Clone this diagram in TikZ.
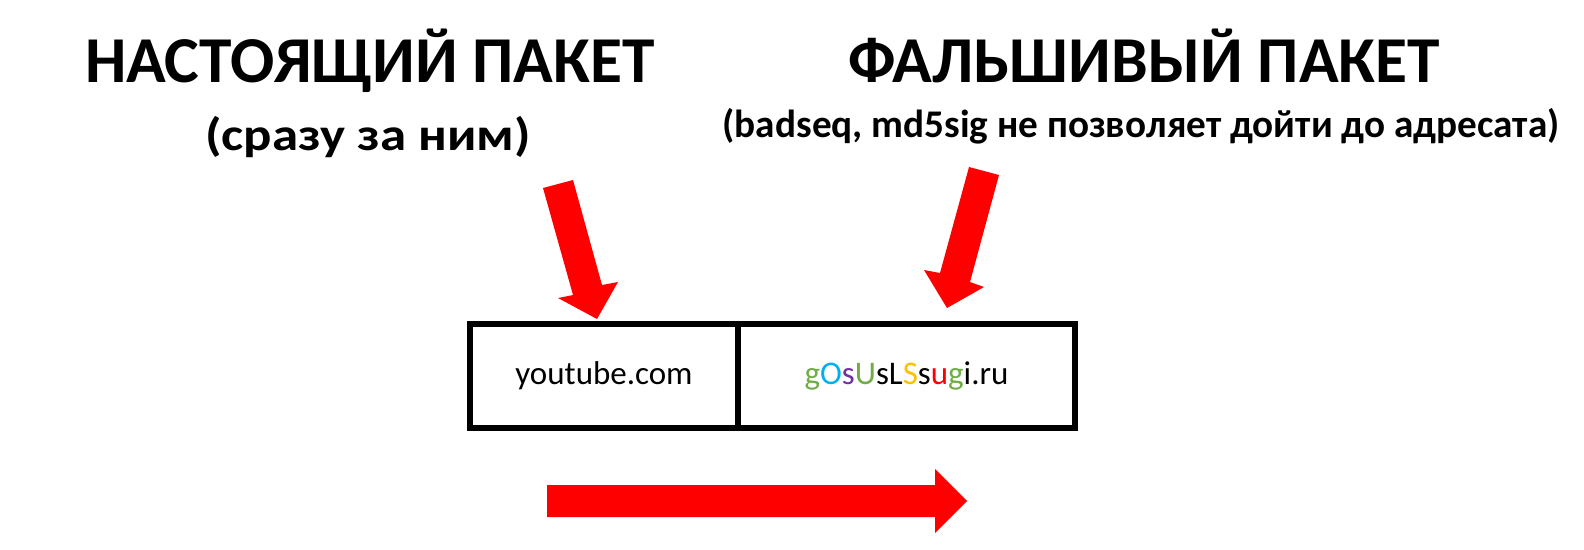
\documentclass[tikz,border=0pt]{standalone}
\usepackage{fontspec}
\setmainfont{Carlito}
\definecolor{arrred}{RGB}{255,0,0}
\definecolor{cgreen}{RGB}{112,173,71}
\definecolor{cblue}{RGB}{0,176,240}
\definecolor{cpurple}{RGB}{112,48,160}
\definecolor{cyellow}{RGB}{255,192,0}
\begin{document}
\begin{tikzpicture}[x=1pt,y=-1pt,
  title/.style={font=\fontsize{65.5}{70}\selectfont\bfseries, anchor=base, inner sep=0pt},
  subtitle/.style={font=\fontsize{46}{50}\selectfont\bfseries, anchor=base, inner sep=0pt, xscale=1.15},
  subtitlesmall/.style={font=\fontsize{39.2}{44}\selectfont\bfseries, anchor=base, inner sep=0pt},
  cell/.style={draw=black, line width=6pt, minimum height=104pt, inner sep=0pt, font=\fontsize{33}{38}\selectfont},
  bigarrow/.style={fill=arrred, draw=none}]
\useasboundingbox (0,0) rectangle (1584,549);
\node[title] (t1) at (370,82) {НАСТОЯЩИЙ ПАКЕТ};
\node[subtitle] (s1) at (368,150) {(сразу за ним)};
\node[title] (t2) at (1144,82) {ФАЛЬШИВЫЙ ПАКЕТ};
\node[subtitlesmall] (s2) at (1141,137) {(badseq, md5sig не позволяет дойти до адресата)};
\node[cell, minimum width=268pt] (real) at (604,376) {youtube.com};
\node[cell, minimum width=337pt] (fake) at (906.5,376) {\textcolor{cgreen}{g}\textcolor{cblue}{O}\textcolor{cpurple}{s}\textcolor{cgreen}{U}sL\textcolor{cyellow}{S}s\textcolor{arrred}{u}\textcolor{cgreen}{g}i.ru};
% arrows
\fill[bigarrow] (543,188) -- (573,180) -- (602,285) -- (618,282) -- (597,319) -- (558,298) -- (573,295) -- cycle;
\fill[bigarrow] (969,167) -- (999,175) -- (970,282) -- (984,287) -- (947,308) -- (924,270) -- (940,273) -- cycle;
\fill[bigarrow] (547,485) -- (935,485) -- (935,469) -- (967,501) -- (935,533) -- (935,517) -- (547,517) -- cycle;
\end{tikzpicture}
\end{document}
